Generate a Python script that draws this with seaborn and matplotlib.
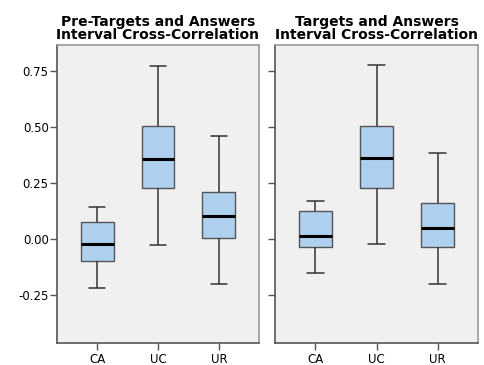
import pandas as pd, matplotlib.pyplot as plt
import seaborn as sns
import matplotlib
matplotlib.use('Agg')

# five-number summaries: whisker low, Q1, median, Q3, whisker high
groups = ['CA', 'UC', 'UR']
titles = ['Pre-Targets and Answers\nInterval Cross-Correlation',
          'Targets and Answers\nInterval Cross-Correlation']

pre_CA = [-0.222, -0.098, -0.024, 0.076, 0.142]
pre_UC = [-0.027, 0.225, 0.357, 0.502, 0.772]
pre_UR = [-0.201, 0.002, 0.101, 0.210, 0.458]

tgt_CA = [-0.152, -0.038, 0.011, 0.125, 0.168]
tgt_UC = [-0.024, 0.226, 0.359, 0.504, 0.775]
tgt_UR = [-0.201, -0.036, 0.049, 0.161, 0.384]

yticks = [-0.25, 0.0, 0.25, 0.5, 0.75]


def make_frame(ca, uc, ur):
    # with 5 points the 25/50/75 percentiles land exactly on the middle values
    rows = []
    for g, vals in zip(groups, [ca, uc, ur]):
        for v in vals:
            rows.append({'group': g, 'value': v})
    return pd.DataFrame(rows)


frames = [make_frame(pre_CA, pre_UC, pre_UR), make_frame(tgt_CA, tgt_UC, tgt_UR)]

sns.set_style('white')
plt.rcParams['font.family'] = ['DejaVu Sans']
plt.rcParams['text.color'] = 'black'
plt.rcParams['xtick.labelcolor'] = 'black'
plt.rcParams['ytick.labelcolor'] = 'black'

fig = plt.figure(figsize=(4.84, 3.65), dpi=100)
W, H = 484, 365
boxes = [(57, 45, 202, 298), (275, 45, 203, 298)]

for i, (df, title) in enumerate(zip(frames, titles)):
    x0, y0, w, h = boxes[i]
    ax = fig.add_axes([x0 / W, (H - y0 - h) / H, w / W, h / H])
    ax.set_facecolor('#f0f0f0')
    sns.boxplot(data=df, x='group', y='value', order=groups, ax=ax,
                whis=(0, 100), width=0.54, color='#aed0ee', saturation=1,
                linecolor='#555555', linewidth=1.0, showfliers=False,
                medianprops=dict(color='black', linewidth=2.2),
                whiskerprops=dict(color='#333333', linewidth=1.1),
                capprops=dict(color='#333333', linewidth=1.1))
    ax.set_xlim(-0.66, 2.66)
    ax.set_ylim(-0.466, 0.865)
    ax.set_yticks(yticks)
    ax.set_xlabel('')
    ax.set_ylabel('')
    if i == 0:
        ax.set_yticklabels([f'{t:.2f}' for t in yticks], fontsize=8.5)
    else:
        ax.set_yticklabels([])
    ax.tick_params(axis='x', labelsize=8.5, length=5, width=1, color='#555555', pad=2, direction='out')
    ax.tick_params(axis='y', length=5, width=1, color='#555555', pad=1, direction='out')
    ax.tick_params(left=True, bottom=True)
    for s in ['left', 'bottom']:
        ax.spines[s].set_color('#555555')
        ax.spines[s].set_linewidth(1.2)
    for s in ['top', 'right']:
        ax.spines[s].set_color('#999999')
        ax.spines[s].set_linewidth(1.2)
    ax.set_title(title, fontsize=10, fontweight='bold', linespacing=0.95, pad=4, color='black')

plt.savefig('out.png', dpi=100)
plt.close()
